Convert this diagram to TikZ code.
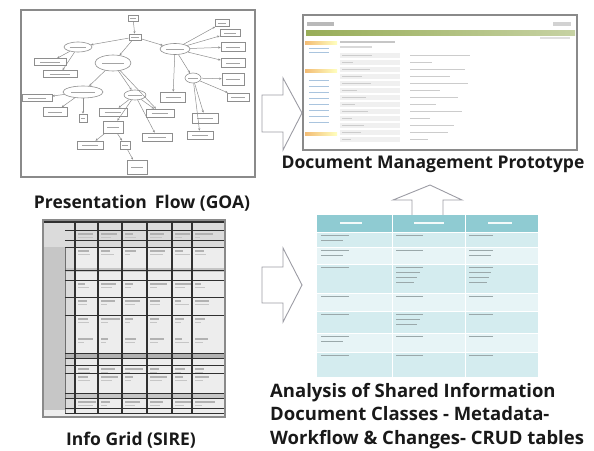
\documentclass[tikz,border=0pt]{standalone}
\usepackage{fontspec}
\setmainfont{Open Sans}
\usetikzlibrary{shapes.geometric,arrows.meta,positioning}
\definecolor{framegray}{HTML}{8A8A8A}
\definecolor{flowgray}{HTML}{8E8E8E}
\definecolor{gridink}{HTML}{303030}
\definecolor{tealhead}{HTML}{8FCBD2}
\definecolor{tealrowA}{HTML}{D4ECEF}
\definecolor{tealrowB}{HTML}{E7F4F6}
\definecolor{cellink}{HTML}{9AA8AA}
\definecolor{olivebar}{HTML}{98AD58}
\definecolor{navorange}{HTML}{F3BC74}
\definecolor{navblue}{HTML}{A9C4DE}
\definecolor{arrowgray}{HTML}{9C9CA4}
\tikzset{
  smudge/.style={path picture={\draw[flowgray!80, line width=0.8pt]
      ([xshift=-0.3*#1pt]path picture bounding box.center) --
      ([xshift=0.3*#1pt]path picture bounding box.center);}},
  fbox/.style args={#1/#2}{draw=flowgray, line width=0.6pt, inner sep=0pt,
      minimum width=#1pt, minimum height=#2pt, smudge=#1},
  fell/.style args={#1/#2}{ellipse, draw=flowgray, line width=0.6pt, inner sep=0pt,
      minimum width=#1pt, minimum height=#2pt, smudge=#1},
  flowline/.style={draw=flowgray, line width=0.5pt, -{Stealth[length=2.5pt,width=2.2pt]}},
  blockarrow/.style={draw=arrowgray, fill=white, line width=0.9pt, line join=miter},
  caption/.style={font=\fontsize{17.5}{23.5}\selectfont\bfseries, text=black!90, inner sep=0pt},
}
\begin{document}
\begin{tikzpicture}[x=1pt,y=-1pt]
  \useasboundingbox (0,0) rectangle (594,450);

  %presentation flow
  \draw[framegray, line width=1.6pt] (21,10) rectangle (255,177);
  \node[fbox=10/6] (start) at (133,18) {};
  \node[fbox=12/6] (menu) at (135,37) {};
  \node[fell=28/10] (eProfile) at (78,47) {};
  \node[fell=30/11] (eSearch) at (175,49) {};
  \node[fell=36/16] (eDocs) at (113,63) {};
  \node[fell=16/10] (eView) at (193,78) {};
  \node[fell=40/12] (eEdit) at (83,92) {};
  \node[fell=22/10] (eList) at (135,95) {};
  \node[fbox=32/7] (b1) at (50,62) {};
  \node[fbox=34/7] (b2) at (60,74) {};
  \node[fbox=30/7] (b3) at (37,98) {};
  \node[fbox=24/9] (b4) at (55,112) {};
  \node[fbox=8/8] (b5) at (83,118) {};
  \node[fbox=28/8] (b6) at (113,112) {};
  \node[fbox=20/12] (b7) at (113,127) {};
  \node[fbox=26/8] (b8) at (90,145) {};
  \node[fbox=10/8] (b9) at (125,145) {};
  \node[fbox=20/14] (b10) at (137,167) {};
  \node[fbox=30/8] (b11) at (157,137) {};
  \node[fbox=28/8] (b12) at (160,113) {};
  \node[fbox=25/10] (b13) at (173,97) {};
  \node[fbox=26/8] (b14) at (200,135) {};
  \node[fbox=26/10] (b15) at (205,118) {};
  \node[fbox=14/7] (r1) at (222,23) {};
  \node[fbox=20/7] (r2) at (230,33) {};
  \node[fbox=24/9] (r3) at (233,47) {};
  \node[fbox=24/9] (r4) at (233,63) {};
  \node[fbox=22/12] (r5) at (233,79) {};
  \node[fbox=22/8] (r6) at (238,97) {};
  \foreach \a/\b in {start/menu, menu/eProfile, menu/eSearch, menu/eDocs,
      eSearch/r1, eSearch/r2, eSearch/r3, eSearch/r4, eSearch/eView,
      eView/r5, eView/r6, eProfile/b1, eProfile/b2, eDocs/eEdit, eDocs/eList,
      eEdit/b3, eEdit/b4, eEdit/b5, eList/b6, eList/b7, eList/b11, eList/b12,
      b7/b8, b7/b9, b9/b10, eSearch/b13, eView/b14, eView/b15, eDocs/b12}
    \draw[flowline] (\a) -- (\b);

  %prototype screenshot
  \draw[framegray, line width=1.6pt, fill=white] (303,15) rectangle (577,150);
  \fill[gray!55] (307,22) rectangle (334,26);
  \fill[gray!35] (553,22) rectangle (571,26);
  \shade[left color=olivebar, right color=olivebar!55] (306,30) rectangle (575,35);
  \fill[gray!25] (540,37) rectangle (570,39);
  \foreach \y in {41,69,132}
    \shade[left color=navorange, right color=yellow!25] (305,\y) rectangle (337,\y+3.5);
  \foreach \y in {48,52,80,86,92,98,104,110,116,122}
    \fill[navblue] (309,\y) rectangle (329,\y+1.4);
  \fill[gray!45] (340,41) rectangle (395,43);
  \fill[gray!30] (340,46) rectangle (372,47.5);
  \foreach \y/\w in {53/60, 60/22, 67/55, 74/40, 81/58, 88/30, 95/48, 102/26,
      109/52, 116/20, 123/44, 130/38, 137/18}
  {
    \fill[gray!12] (340,\y) rectangle (400,\y+5);
    \fill[gray!40] (342,\y+2) rectangle (342+0.5*\w,\y+3.2);
    \fill[gray!40] (410,\y+2) rectangle (410+\w,\y+3.2);
  }
  \node[caption] (protoCap) at (433,164) {Document Management Prototype};

  %arrows
  \filldraw[blockarrow] (262,95) -- (283,95) -- (283,78) -- (302,113)
    -- (283,150) -- (283,132) -- (262,132) -- cycle;
  \filldraw[blockarrow] (412,218) -- (412,200) -- (393,200) -- (430,185)
    -- (462,200) -- (443,200) -- (443,218) -- cycle;
  \filldraw[blockarrow] (262,267) -- (283,267) -- (283,248) -- (302,285)
    -- (283,322) -- (283,303) -- (262,303) -- cycle;

  %info grid
  \fill[gray!14] (43,220) rectangle (225,417);
  \fill[gray!45] (43,222) rectangle (65,410);
  \fill[gray!28] (65,247) rectangle (75,410);
  \fill[gray!28] (43,222) rectangle (225,247);
  \fill[gray!60] (65,353) rectangle (225,358);
  \fill[gray!45] (65,268) rectangle (225,272);
  \fill[gray!45] (65,393) rectangle (225,398);
  \pgfmathsetseed{11}
  \foreach \cx in {75,98,122,147,172,192}
    \foreach \cy in {230,247,280,297,315,335,365,373,398}
    {
      \pgfmathsetmacro\w{6+14*rnd}
      \fill[gray!60] (\cx+3,\cy+3) rectangle (\cx+3+\w,\cy+4.6);
      \pgfmathsetmacro\w{4+12*rnd}
      \fill[gray!45] (\cx+3,\cy+7) rectangle (\cx+3+\w,\cy+8.4);
    }
  \foreach \x in {75,98,122,147,172,192}
    \draw[gridink, line width=1.1pt] (\x,222) -- (\x,413);
  \draw[gridink!70, line width=0.5pt] (65,247) -- (65,413);
  \foreach \y in {230,240,247,270,280,297,315,353,358,365,373,393,398,408,413}
    \draw[gridink, line width=0.8pt] (65,\y) -- (225,\y);
  \draw[gridink, line width=1.1pt] (43,222) -- (225,222);
  \draw[framegray, line width=1.2pt] (43,220) rectangle (225,417);
  \node[caption] (gridCap) at (131,440) {Info Grid (SIRE)};

  %shared information table
  \fill[tealhead] (317,215) rectangle (538,232);
  \foreach \t/\b/\c in {232/247/tealrowA, 247/264/tealrowB, 264/293/tealrowA,
      293/311/tealrowB, 311/333/tealrowA, 333/352/tealrowB, 352/377/tealrowA}
    \fill[\c] (317,\t) rectangle (538,\b);
  \foreach \x in {392,465}
    \draw[white, line width=1pt] (\x,215) -- (\x,377);
  \foreach \y in {232,247,264,293,311,333,352}
    \draw[white, line width=1pt] (317,\y) -- (538,\y);
  \foreach \x/\w in {340/22, 414/30, 488/24}
    \fill[white!90!tealhead] (\x,222) rectangle (\x+\w,224);
  \foreach \t/\a/\b/\c in {232/2/1/1, 247/2/1/2, 264/1/4/4, 293/1/1/1,
      311/1/3/1, 333/2/1/1, 352/1/1/1}
  {
    \foreach \k in {1,...,\a}
      \fill[cellink] (321,\t-1+5*\k) rectangle ++(34-6*\k,-1.5);
    \foreach \k in {1,...,\b}
      \fill[cellink] (396,\t-1+5*\k) rectangle ++(30-3*\k,-1.5);
    \foreach \k in {1,...,\c}
      \fill[cellink] (469,\t-1+5*\k) rectangle ++(26-2*\k,-1.5);
  }

  %labels
  \node[caption] (goaCap) at (142,203) {Presentation\hspace{0.2em} Flow (GOA)};
  \node[caption, font=\fontsize{18.5}{23.5}\selectfont\bfseries, anchor=north west,
    align=left] (shareCap) at (270,383)
    {Analysis of Shared Information\\Document Classes - Metadata-\\Workflow \& Changes- CRUD tables};
\end{tikzpicture}
\end{document}
